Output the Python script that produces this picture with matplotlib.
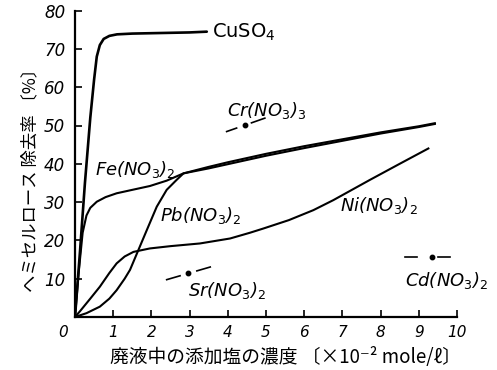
import matplotlib
matplotlib.use("Agg")
import matplotlib.pyplot as plt

plt.rcParams["font.family"] = ["DejaVu Sans"]

# Removal curves (x: salt concentration x10^-2 mole/l, y: removal %)
cu_x = [0, 0.13, 0.26, 0.4, 0.5, 0.57, 0.65, 0.75, 0.9, 1.1, 1.5, 2.0, 2.5, 3.0, 3.45]
cu_y = [0, 17, 35, 52, 62, 68, 71, 72.6, 73.4, 73.8, 74.0, 74.1, 74.2, 74.3, 74.5]

fe_x = [0, 0.1, 0.2, 0.3, 0.4, 0.57, 0.8, 1.09, 1.5, 1.96, 2.4, 2.84,
        3.5, 4, 5, 6, 7, 8, 9, 9.42]
fe_y = [0, 12, 22, 26.5, 28.5, 30.1, 31.3, 32.3, 33.2, 34.2, 35.6, 37.5,
        39.2, 40.4, 42.6, 44.6, 46.4, 48.2, 49.8, 50.6]

pb_x = [0, 0.3, 0.65, 0.9, 1.09, 1.3, 1.44, 1.66, 1.88, 2.14, 2.4, 2.66, 2.84,
        3.5, 4, 5, 6, 7, 8, 9, 9.42]
pb_y = [0, 1.0, 2.7, 4.8, 7, 10, 12.3, 17.5, 22.7, 28.8, 33.2, 35.8, 37.5,
        38.8, 39.9, 42.1, 44.1, 46.0, 47.9, 49.6, 50.4]

ni_x = [0, 0.13, 0.4, 0.65, 0.9, 1.09, 1.3, 1.53, 1.96, 2.5, 3.27, 4.06,
        4.58, 4.93, 5.6, 6.24, 6.76, 7.72, 8.5, 9.25]
ni_y = [0, 1.5, 4.8, 7.9, 11.5, 14, 15.8, 17, 17.9, 18.5, 19.2, 20.5,
        22, 23.1, 25.3, 27.9, 30.5, 35.8, 40, 44]

# Single measurements
pt_names = ["Cr", "Sr", "Cd"]
pt_x = [4.45, 2.97, 9.34]
pt_y = [50.1, 11.4, 15.6]

x_ticks = [1, 2, 3, 4, 5, 6, 7, 8, 9, 10]
y_ticks = [10, 20, 30, 40, 50, 60, 70, 80]

fig = plt.figure(figsize=(4.97, 3.70), dpi=100)
ax = fig.add_axes([75 / 497, 53 / 370, 382 / 497, 306.4 / 370])

lw = 1.5
ax.plot(cu_x, cu_y, color="black", lw=1.9, solid_capstyle="round")
ax.plot(fe_x, fe_y, color="black", lw=lw)
ax.plot(pb_x, pb_y, color="black", lw=lw)
ax.plot(ni_x, ni_y, color="black", lw=lw)

# dot with a short dash on each side, tilted a little
tilt = {"Cr": 3.5, "Sr": 2.9, "Cd": 0.0}
dash_ext = {"Cr": (-0.48, -0.22, 0.17, 0.52),
            "Sr": (-0.57, -0.22, 0.22, 0.57),
            "Cd": (-0.70, -0.39, 0.17, 0.48)}
for n, px, py in zip(pt_names, pt_x, pt_y):
    a, b, c, d = dash_ext[n]
    k = tilt[n]
    ax.plot([px + a, px + b], [py + k * a, py + k * b], color="black", lw=1.2)
    ax.plot([px + c, px + d], [py + k * c, py + k * d], color="black", lw=1.2)
    ax.plot(px, py, "o", color="black", ms=3.2)

lab = dict(fontsize=13, style="italic", va="center", ha="left")
ax.text(3.59, 74.4, "CuSO$_4$", fontsize=14, va="center", ha="left")
ax.text(3.98, 53.8, "Cr(NO$_3$)$_3$", **lab)
ax.text(0.52, 38.6, "Fe(NO$_3$)$_2$", **lab)
ax.text(2.23, 26.4, "Pb(NO$_3$)$_2$", **lab)
ax.text(6.94, 29.0, "Ni(NO$_3$)$_2$", **lab)
ax.text(2.96, 7.0, "Sr(NO$_3$)$_2$", **lab)
ax.text(8.64, 9.4, "Cd(NO$_3$)$_2$", **lab)

ax.set_xlim(0, 10)
ax.set_ylim(0, 80)
ax.spines["top"].set_visible(False)
ax.spines["right"].set_visible(False)
ax.spines["left"].set_linewidth(1.6)
ax.spines["bottom"].set_linewidth(1.6)

ax.set_xticks(x_ticks)
ax.set_xticklabels([str(t) for t in x_ticks], fontsize=11, style="italic")
ax.set_yticks(y_ticks)
ax.set_yticklabels([str(t) for t in y_ticks], fontsize=12, style="italic")
ax.tick_params(axis="both", direction="in", length=5, width=1.2)
ax.tick_params(axis="x", pad=6)
ax.tick_params(axis="y", pad=7)
ax.text(-0.3, -2.0, "0", fontsize=11, style="italic", ha="center", va="top")

jp = ["Noto Sans CJK JP", "DejaVu Sans"]
fig.text(30 / 497, 1 - 176 / 370, "ヘミセルロース 除去率 〔%〕", family=jp,
         fontsize=12.5, rotation=90, ha="center", va="center")
fig.text(285 / 497, 1 - 357 / 370, "廃液中の添加塩の濃度 〔×10⁻² mole/ℓ〕", family=jp,
         fontsize=13.5, ha="center", va="center")

fig.savefig("out.png", dpi=100)
